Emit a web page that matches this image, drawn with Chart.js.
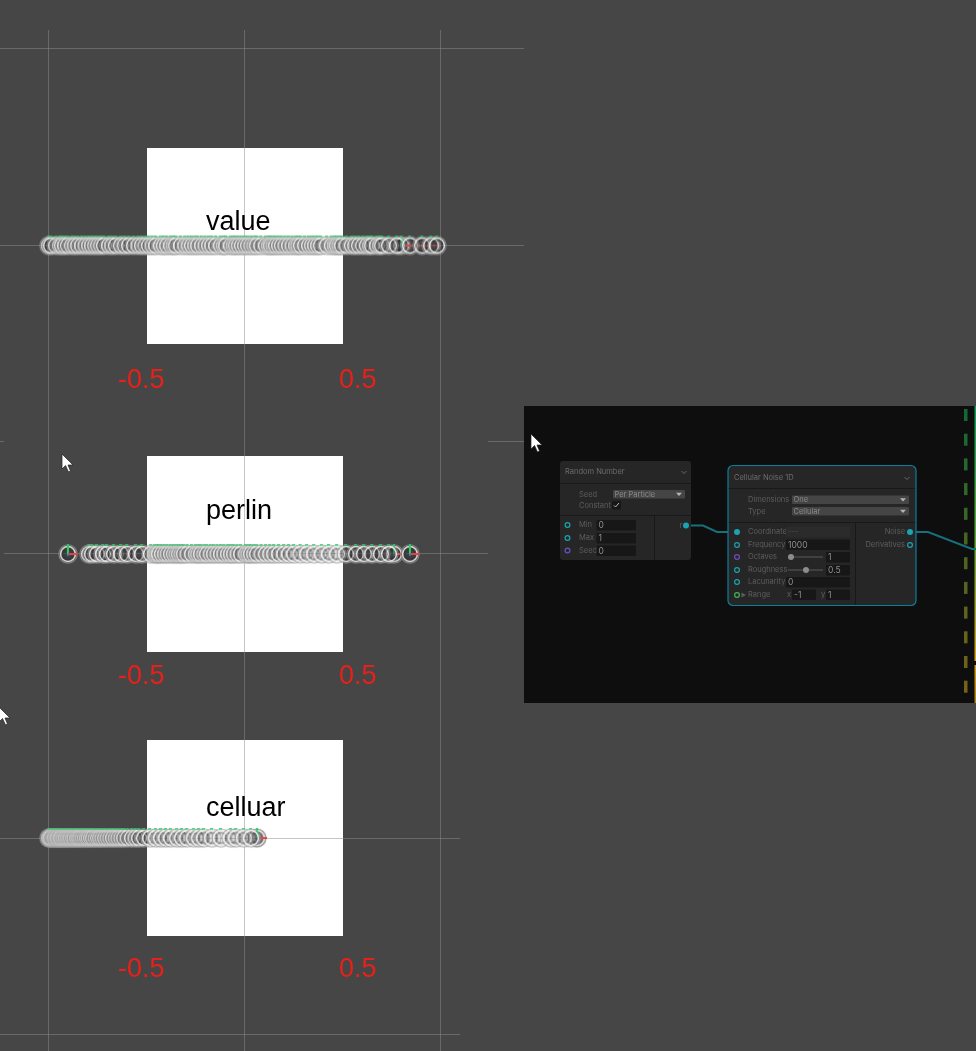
<!DOCTYPE html>
<html>
<head>
<meta charset="utf-8">
<title>Noise distribution</title>
<script src="https://cdn.jsdelivr.net/npm/chart.js@4/dist/chart.umd.js"></script>
<style>
html, body { margin: 0; padding: 0; background: #464646; overflow: hidden; }
canvas { display: block; }
</style>
</head>
<body>
<canvas id="noiseChart" width="976" height="1051"></canvas>
<script>
const rowNames = ['value', 'perlin', 'celluar'];
const rowCenters = [0, -1.574, -3.023];
const tickLabels = ['-0.5', '0.5'];
const gridTicks = [-1, 0, 1];

// particle positions, one list per noise type
const valueX = [-0.998,-0.987,-0.961,-0.941,-0.931,-0.916,-0.901,-0.880,-0.866,-0.849,-0.829,-0.811,-0.793,-0.778,-0.762,-0.747,-0.731,-0.717,-0.691,-0.675,-0.656,-0.630,-0.611,-0.589,-0.564,-0.541,-0.523,-0.505,-0.487,-0.469,-0.452,-0.426,-0.411,-0.395,-0.375,-0.361,-0.349,-0.324,-0.302,-0.285,-0.268,-0.251,-0.237,-0.217,-0.199,-0.181,-0.165,-0.145,-0.120,-0.105,-0.094,-0.069,-0.055,-0.043,-0.029,-0.013,0.003,0.018,0.035,0.051,0.064,0.085,0.110,0.125,0.135,0.148,0.161,0.176,0.191,0.209,0.227,0.245,0.263,0.275,0.288,0.309,0.329,0.345,0.360,0.375,0.390,0.421,0.446,0.461,0.472,0.485,0.497,0.521,0.548,0.565,0.584,0.605,0.625,0.641,0.651,0.676,0.691,0.702,0.737,0.778,0.844,0.906,0.952,0.982];
const perlinX = [-0.793,-0.778,-0.753,-0.722,-0.702,-0.666,-0.630,-0.599,-0.554,-0.523,-0.477,-0.457,-0.445,-0.436,-0.421,-0.406,-0.392,-0.375,-0.360,-0.346,-0.334,-0.321,-0.309,-0.291,-0.268,-0.248,-0.235,-0.222,-0.205,-0.191,-0.172,-0.156,-0.138,-0.120,-0.103,-0.084,-0.069,-0.054,-0.036,-0.018,0.008,0.021,0.033,0.049,0.064,0.087,0.110,0.131,0.151,0.176,0.202,0.227,0.253,0.286,0.319,0.355,0.395,0.431,0.472,0.518,0.569,0.610,0.651,0.696,0.737];
const celluarX = [-0.998,-0.991,-0.985,-0.974,-0.966,-0.958,-0.951,-0.943,-0.936,-0.928,-0.919,-0.911,-0.902,-0.893,-0.884,-0.874,-0.866,-0.855,-0.846,-0.837,-0.826,-0.815,-0.804,-0.794,-0.783,-0.772,-0.759,-0.747,-0.736,-0.724,-0.711,-0.698,-0.684,-0.671,-0.657,-0.643,-0.628,-0.614,-0.596,-0.574,-0.556,-0.538,-0.513,-0.482,-0.452,-0.426,-0.401,-0.375,-0.344,-0.319,-0.293,-0.258,-0.232,-0.207,-0.166,-0.120,-0.069,-0.043,-0.003,0.033];
// particles that show their axis gizmo in front of the others
const valueFront = [0.80];
const perlinFront = [-0.901, 0.763, 0.844];
const celluarFront = [0.064];
// red axis rays left visible past the front particle of the value row
const valueRays = [0.89, 0.945];

function makeSprite(kind) {
    const c = document.createElement('canvas');
    c.width = c.height = 26;
    const g = c.getContext('2d');
    if (kind !== 'ray') {
        g.filter = 'blur(0.4px)';
        g.beginPath(); g.arc(13, 13, 9.3, 0, Math.PI * 2);
        g.fillStyle = kind === 'gizmo' ? 'rgba(55,55,55,0.55)' : 'rgba(90,90,90,0.1)';
        g.fill();
        // soft dark band inside the ring gives the overlapped rings their contrast
        g.strokeStyle = 'rgba(45,45,45,0.3)'; g.lineWidth = 2.4;
        g.beginPath(); g.arc(13, 13, 5.2, 0, Math.PI * 2); g.stroke();
        g.strokeStyle = 'rgba(165,165,165,0.6)'; g.lineWidth = 1.3;
        g.beginPath(); g.arc(13, 13, 9.1, 0, Math.PI * 2); g.stroke();
        g.strokeStyle = 'rgba(238,238,238,0.9)'; g.lineWidth = 1.5;
        g.beginPath(); g.arc(13, 13, 7.4, 0, Math.PI * 2); g.stroke();
        g.filter = 'none';
    }
    if (kind === 'gizmo') {
        g.fillStyle = '#1fd45f'; g.fillRect(12, 3, 2, 10);
        g.fillStyle = '#e2434a'; g.fillRect(13, 12, 10, 2);
        g.fillStyle = '#3b6fd0'; g.fillRect(12, 13, 2, 2);
    } else if (kind === 'ray') {
        g.fillStyle = 'rgba(226,67,74,0.6)'; g.fillRect(5, 12.5, 18, 1.5);
    } else {
        g.fillStyle = 'rgba(31,212,95,0.8)'; g.fillRect(11, 3, 3, 1.6);
    }
    return c;
}

const ringSprite = makeSprite('ring');
const gizmoSprite = makeSprite('gizmo');
const raySprite = makeSprite('ray');

function rowDataset(xs, rowIndex, sprite) {
    return {
        data: xs.map(x => ({ x: x, y: rowCenters[rowIndex] })),
        pointStyle: sprite,
        pointRadius: 10,
        showLine: false
    };
}

function text(ctx, str, x, y, font, color, align) {
    ctx.font = font;
    ctx.fillStyle = color;
    ctx.textAlign = align || 'left';
    ctx.textBaseline = 'middle';
    ctx.fillText(str, x, y);
}

function box(ctx, x, y, w, h, color, radius) {
    ctx.fillStyle = color;
    ctx.beginPath();
    ctx.roundRect(x, y, w, h, radius || 0);
    ctx.fill();
}

function cursor(ctx, x, y) {
    ctx.fillStyle = '#fff';
    ctx.strokeStyle = '#222';
    ctx.lineWidth = 0.7;
    ctx.beginPath();
    ctx.moveTo(x, y);
    ctx.lineTo(x, y + 15);
    ctx.lineTo(x + 3.5, y + 11.5);
    ctx.lineTo(x + 6.5, y + 18);
    ctx.lineTo(x + 8.5, y + 17);
    ctx.lineTo(x + 6, y + 11);
    ctx.lineTo(x + 11, y + 11);
    ctx.closePath();
    ctx.fill();
    ctx.stroke();
}

function port(ctx, x, y, color, filled) {
    ctx.beginPath();
    ctx.arc(x, y, 2.4, 0, Math.PI * 2);
    ctx.strokeStyle = color;
    ctx.lineWidth = 1.2;
    ctx.stroke();
    if (filled) { ctx.fillStyle = color; ctx.fill(); }
}

function chevron(ctx, x, y) {
    ctx.strokeStyle = '#777';
    ctx.lineWidth = 0.8;
    ctx.beginPath();
    ctx.moveTo(x - 2.5, y - 1);
    ctx.lineTo(x, y + 1.5);
    ctx.lineTo(x + 2.5, y - 1);
    ctx.stroke();
}

function dropdown(ctx, x, y, w, label) {
    box(ctx, x, y, w, 8.5, '#454545', 1);
    text(ctx, label, x + 1.5, y + 4.5, uiFont, '#8a8a8a');
    ctx.fillStyle = '#b5b5b5';
    ctx.beginPath();
    ctx.moveTo(x + w - 9, y + 2.8);
    ctx.lineTo(x + w - 3, y + 2.8);
    ctx.lineTo(x + w - 6, y + 6);
    ctx.fill();
}

function field(ctx, x, y, w, label) {
    box(ctx, x, y, w, 10.5, '#171717', 1);
    text(ctx, label, x + 2, y + 5.5, uiFontLarge, '#8e8e8e');
}

function slider(ctx, x, y, w, thumb) {
    ctx.fillStyle = '#5a5a5a';
    ctx.fillRect(x, y - 0.5, w, 1);
    ctx.fillStyle = '#8c8c8c';
    ctx.beginPath();
    ctx.arc(thumb, y, 3, 0, Math.PI * 2);
    ctx.fill();
}

const uiFont = '7.5px Inter, sans-serif';
const uiFontLarge = '8.5px Inter, sans-serif';
const uiLabel = '#5d5d5d';
const teal = '#1aa3b0';
const purple = '#6a4fc0';

function drawPanel(ctx) {
    box(ctx, 524, 406, 452, 297, '#0e0e0e');

    // right edge: dashed and solid graph lines, green at the top to yellow at the bottom
    const fade = ctx.createLinearGradient(0, 405, 0, 703);
    fade.addColorStop(0, '#0c6b34');
    fade.addColorStop(0.55, '#4f6420');
    fade.addColorStop(1, '#7a6214');
    ctx.fillStyle = fade;
    for (let y = 409; y < 695; y += 24.7) ctx.fillRect(964, y, 3.5, 12);
    const solid = ctx.createLinearGradient(0, 405, 0, 703);
    solid.addColorStop(0, '#0f9a5a');
    solid.addColorStop(0.5, '#6da83c');
    solid.addColorStop(0.85, '#d3a21f');
    solid.addColorStop(1, '#a88418');
    ctx.fillStyle = solid;
    ctx.fillRect(974.5, 406, 1.5, 255);
    ctx.fillRect(974.5, 665, 1.5, 38);

    // wires
    ctx.strokeStyle = '#17707c';
    ctx.lineWidth = 2;
    ctx.beginPath();
    ctx.moveTo(691, 525.5); ctx.lineTo(703, 525.5); ctx.lineTo(717, 532); ctx.lineTo(730, 532);
    ctx.stroke();
    ctx.beginPath();
    ctx.moveTo(914, 532); ctx.lineTo(928, 532); ctx.lineTo(972, 549); ctx.lineTo(976, 549);
    ctx.stroke();

    // Random Number node
    box(ctx, 560, 461, 131, 99, '#262626', 3);
    box(ctx, 560, 483, 131, 0.8, '#161616');
    box(ctx, 560, 515, 131, 0.8, '#161616');
    box(ctx, 654, 515, 0.8, 45, '#161616');
    text(ctx, 'Random Number', 565, 471.5, uiFont, '#6c6c6c');
    chevron(ctx, 684, 472);
    text(ctx, 'Seed', 579, 494.5, uiFont, uiLabel);
    dropdown(ctx, 613, 490, 72, 'Per Particle');
    text(ctx, 'Constant', 579, 505.5, uiFont, uiLabel);
    box(ctx, 612, 501, 9, 8.5, '#171717', 1);
    ctx.strokeStyle = '#c8c8c8';
    ctx.lineWidth = 0.9;
    ctx.beginPath();
    ctx.moveTo(614, 505.5); ctx.lineTo(615.5, 507); ctx.lineTo(619, 503);
    ctx.stroke();
    const randomRows = [['Min', '0', 525, teal], ['Max', '1', 538, teal], ['Seed', '0', 550.5, purple]];
    randomRows.forEach(r => {
        port(ctx, 567.5, r[2], r[3]);
        text(ctx, r[0], 579, r[2], uiFont, uiLabel);
        field(ctx, 596.5, r[2] - 5, 39.5, r[1]);
    });
    text(ctx, 'r', 682.5, 525.5, uiFont, uiLabel, 'right');
    port(ctx, 686, 525.5, teal, true);

    // Cellular Noise 1D node
    box(ctx, 728, 465.5, 188, 140, '#262626', 5);
    box(ctx, 728, 488, 188, 0.8, '#161616');
    box(ctx, 728, 522, 188, 0.8, '#161616');
    box(ctx, 855, 522, 0.8, 83, '#161616');
    ctx.strokeStyle = '#0c7f9c';
    ctx.lineWidth = 1.2;
    ctx.beginPath();
    ctx.roundRect(728, 465.5, 188, 140, 5);
    ctx.stroke();
    text(ctx, 'Cellular Noise 1D', 734, 478, uiFont, '#6c6c6c');
    chevron(ctx, 907, 478);
    text(ctx, 'Dimensions', 748, 500, uiFont, uiLabel);
    dropdown(ctx, 792, 495.5, 117, 'One');
    text(ctx, 'Type', 748, 511.5, uiFont, uiLabel);
    dropdown(ctx, 792, 507, 117, 'Cellular');
    const noiseRows = [['Coordinate', 532, teal, true], ['Frequency', 545, teal], ['Octaves', 557, purple], ['Roughness', 570, teal], ['Lacunarity', 582, teal], ['Range', 595, '#3fb45a']];
    noiseRows.forEach(r => {
        port(ctx, 737, r[1], r[2], r[3]);
        text(ctx, r[0], 748, r[1], uiFont, uiLabel);
    });
    box(ctx, 786, 526.5, 64, 10.5, '#2b2b2b', 1);
    text(ctx, '---', 788, 532, uiFont, '#4d4d4d');
    field(ctx, 786, 539.5, 64, '1000');
    slider(ctx, 788, 557, 35, 791);
    field(ctx, 826, 552, 24, '1');
    slider(ctx, 788, 570, 35, 806);
    field(ctx, 826, 565, 24, '0.5');
    field(ctx, 786, 577, 64, '0');
    ctx.fillStyle = '#5d5d5d';
    ctx.beginPath();
    ctx.moveTo(741.5, 592.5); ctx.lineTo(746, 595); ctx.lineTo(741.5, 597.5);
    ctx.fill();
    text(ctx, 'x', 787, 595, uiFont, uiLabel);
    field(ctx, 792, 589.5, 24, '-1');
    text(ctx, 'y', 821, 595, uiFont, uiLabel);
    field(ctx, 826, 589.5, 24, '1');
    text(ctx, 'Noise', 905, 532, uiFont, uiLabel, 'right');
    port(ctx, 910, 532, teal, true);
    text(ctx, 'Derivatives', 905, 545, uiFont, uiLabel, 'right');
    port(ctx, 910, 545, teal);

    cursor(ctx, 531, 434);
}

const scenePlugin = {
    id: 'scene',
    beforeDraw(chart) {
        const { ctx, scales } = chart;
        const x = scales.x, y = scales.y;
        ctx.save();
        ctx.fillStyle = '#464646';
        ctx.fillRect(0, 0, 976, 1051);
        // the white plane behind each row spans -0.5 to 0.5
        ctx.fillStyle = '#fff';
        rowCenters.forEach(c => {
            const left = Math.round(x.getPixelForValue(-0.5) + 0.5);
            const right = Math.round(x.getPixelForValue(0.5) + 0.5);
            const top = Math.round(y.getPixelForValue(c + 0.5));
            const bottom = Math.round(y.getPixelForValue(c - 0.5));
            ctx.fillRect(left, top, right - left, bottom - top);
        });
        ctx.restore();
    },
    beforeDatasetsDraw(chart) {
        const { ctx, scales } = chart;
        const x = scales.x, y = scales.y;
        // horizontal guide lines of the separate views, each has its own extent
        const guides = [[1.005, -1.2474, 1.426], [0, -1.2474, 1.426], [-1, -1.2474, -1.227], [-1, 1.242, 1.426], [-1.571, -1.227, 1.242], [-3.025, -1.2474, 1.1], [-4.026, -1.2474, 1.1]];
        ctx.save();
        ctx.strokeStyle = 'rgba(140,140,140,0.5)';
        ctx.lineWidth = 1;
        guides.forEach(g => {
            const py = Math.floor(y.getPixelForValue(g[0])) + 0.5;
            ctx.beginPath();
            ctx.moveTo(x.getPixelForValue(g[1]), py);
            ctx.lineTo(x.getPixelForValue(g[2]), py);
            ctx.stroke();
        });
        ctx.restore();
    },
    afterDraw(chart) {
        const { ctx } = chart;
        ctx.save();
        const nameY = [222.5, 511.5, 808.5];
        const labelY = [381, 677, 970];
        const bigFont = '27px "Liberation Sans", Arial, sans-serif';
        rowNames.forEach((name, i) => {
            text(ctx, name, 206, nameY[i], bigFont, '#000');
            text(ctx, tickLabels[0], 118, labelY[i], bigFont, '#e8201a');
            text(ctx, tickLabels[1], 339, labelY[i], bigFont, '#e8201a');
        });
        cursor(ctx, 62, 454);
        cursor(ctx, -1, 707);
        drawPanel(ctx);
        ctx.restore();
    }
};

new Chart(document.getElementById('noiseChart').getContext('2d'), {
    type: 'scatter',
    data: {
        datasets: [
            rowDataset(valueX, 0, ringSprite),
            rowDataset(perlinX, 1, ringSprite),
            rowDataset(celluarX, 2, ringSprite),
            rowDataset(valueFront, 0, gizmoSprite),
            rowDataset(perlinFront, 1, gizmoSprite),
            rowDataset(celluarFront, 2, gizmoSprite),
            rowDataset(valueRays, 0, raySprite)
        ]
    },
    options: {
        responsive: false,
        animation: false,
        layout: { autoPadding: false, padding: { top: 30, left: 0, right: 0, bottom: 0 } },
        plugins: { legend: { display: false }, tooltip: { enabled: false }, title: { display: false } },
        scales: {
            x: {
                type: 'linear',
                min: -1.2474,
                max: 3.7321,
                afterBuildTicks: s => { s.ticks = gridTicks.map(v => ({ value: v })); },
                afterFit: s => { s.height = 0; },
                ticks: { display: false },
                border: { display: false },
                grid: { color: 'rgba(140,140,140,0.5)', lineWidth: 1, drawTicks: false, tickLength: 0 }
            },
            y: {
                type: 'linear',
                min: -4.1097,
                max: 1.0995,
                afterFit: s => { s.width = 0; },
                ticks: { display: false },
                border: { display: false },
                grid: { display: false, drawTicks: false }
            }
        }
    },
    plugins: [scenePlugin]
});
</script>
</body>
</html>
